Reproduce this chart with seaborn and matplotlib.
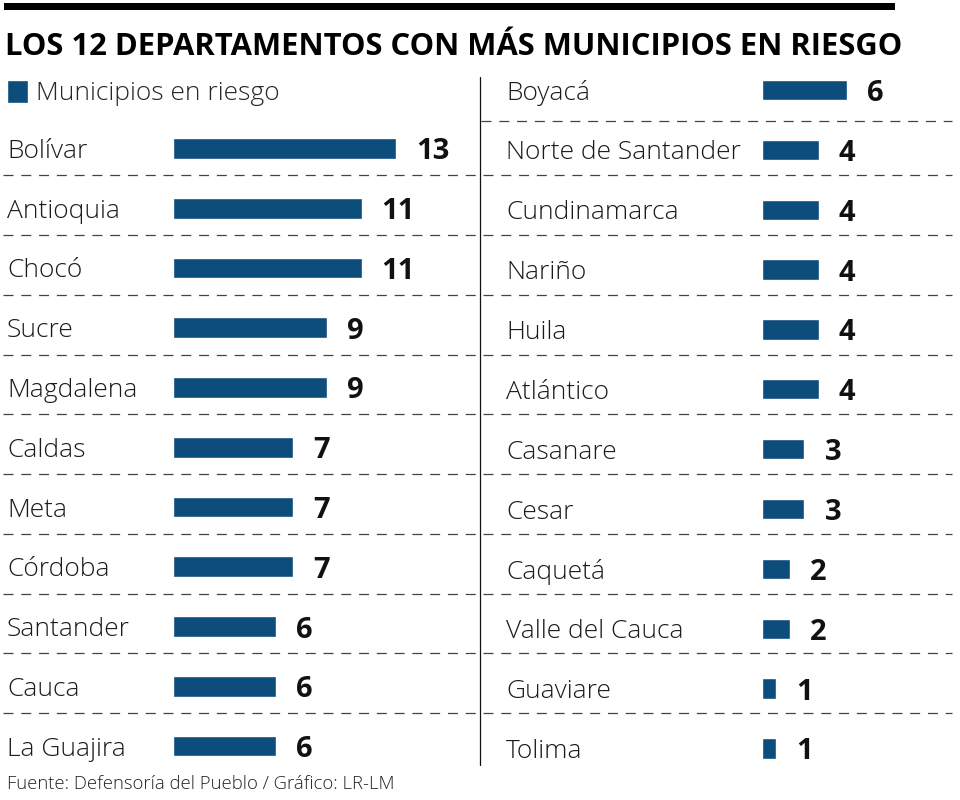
import matplotlib
matplotlib.use("Agg")
import matplotlib.pyplot as plt
import matplotlib.transforms as mtransforms
from matplotlib.lines import Line2D
from matplotlib.patches import Rectangle
import pandas as pd
import seaborn as sns

# ── Data ───────────────────────────────────────────────────────
DEPTOS_IZQ = ["Bolívar", "Antioquia", "Chocó", "Sucre", "Magdalena", "Caldas",
              "Meta", "Córdoba", "Santander", "Cauca", "La Guajira"]
VALORES_IZQ = [13, 11, 11, 9, 9, 7, 7, 7, 6, 6, 6]
DEPTOS_DER = ["Boyacá", "Norte de Santander", "Cundinamarca", "Nariño", "Huila",
              "Atlántico", "Casanare", "Cesar", "Caquetá", "Valle del Cauca",
              "Guaviare", "Tolima"]
VALORES_DER = [6, 4, 4, 4, 4, 4, 3, 3, 2, 2, 1, 1]
SERIE = "Municipios en riesgo"
TITULO = "LOS 12 DEPARTAMENTOS CON MÁS MUNICIPIOS EN RIESGO"
FUENTE = "Fuente: Defensoría del Pueblo / Gráfico: LR-LM"

# ── Style ──────────────────────────────────────────────────────
AZUL = "#0c4d7c"
W, H = 960, 800
sns.set_theme(style="white")
plt.rcParams["font.family"] = ["Open Sans", "DejaVu Sans"]
plt.rcParams["lines.scale_dashes"] = False

fig = plt.figure(figsize=(9.6, 8), dpi=100)
fig.patch.set_facecolor("white")


def px_axes(x0, x1, y0, y1):
    # axes placed with pixel coordinates (origin top-left)
    return fig.add_axes([x0 / W, 1 - y1 / H, (x1 - x0) / W, (y1 - y0) / H])


def draw_column(ax, names, values, label_x, px_per_unit, bar_w, legend_label=None):
    df = pd.DataFrame({"depto": names, "n": values})
    sns.barplot(data=df, x="n", y="depto", color=AZUL, saturation=1,
                width=bar_w, ax=ax, label=legend_label)
    x0, x1 = ax.get_position().x0 * W, ax.get_position().x1 * W
    ax.set_xlim(0, (x1 - x0) / px_per_unit)
    ax.set_ylim(len(names) - 0.5, -0.5)
    ax.axis("off")

    trans_lbl = mtransforms.blended_transform_factory(fig.transFigure, ax.transData)
    off = mtransforms.ScaledTranslation(20 / 100, 0, fig.dpi_scale_trans)
    for i, (name, v) in enumerate(zip(names, values)):
        ax.text(label_x / W, i, name, transform=trans_lbl, ha="left",
                va="center_baseline", fontsize=19, fontweight="light",
                color="#1a1a1a")
        ax.text(v, i, str(v), transform=ax.transData + off, ha="left",
                va="center_baseline", fontsize=21, fontweight="bold",
                color="#111111")


# Left column
ax1 = px_axes(173, 470, 118.6, 775.9)
draw_column(ax1, DEPTOS_IZQ, VALORES_IZQ, 7, 17.15, 0.35, legend_label=SERIE)

# Right column
ax2 = px_axes(762, 955, 60.1, 778.4)
draw_column(ax2, DEPTOS_DER, VALORES_DER, 506, 14.15, 0.34)

# ── Dashed separators ──────────────────────────────────────────
dash = dict(color="#444444", lw=0.9, linestyle=(0, (7.2, 5.6)), clip_on=False)
t1 = mtransforms.blended_transform_factory(fig.transFigure, ax1.transData)
for k in range(len(DEPTOS_IZQ) - 1):
    ax1.add_line(Line2D([3 / W, 952 / W], [k + 0.45, k + 0.45], transform=t1, **dash))
t2 = mtransforms.blended_transform_factory(fig.transFigure, ax2.transData)
ax2.add_line(Line2D([481 / W, 952 / W], [0.52, 0.52], transform=t2, **dash))

# vertical divider
fig.add_artist(Line2D([480 / W, 480 / W], [1 - 77 / H, 1 - 765 / H],
                      color="#111111", lw=0.9))

# top black rule
fig.add_artist(Rectangle((4 / W, 1 - 10 / H), 891 / W, 7 / H,
                         facecolor="black", edgecolor="none"))

# ── Title, legend, source ──────────────────────────────────────
title = fig.text(5 / W, 1 - 55 / H, TITULO, fontsize=22, fontweight="bold",
                 va="baseline", ha="left", color="black")
fig.canvas.draw()
tw = title.get_window_extent().width
title.set_fontsize(22 * 898 / tw)

ax1.legend(loc="center left", bbox_to_anchor=(7 / W, 1 - 93 / H),
           bbox_transform=fig.transFigure, frameon=False,
           prop={"weight": "light", "size": 19},
           handlelength=0.8, handleheight=1.0, handletextpad=0.3,
           borderpad=0, borderaxespad=0)

fig.text(7 / W, 1 - 789 / H, FUENTE, fontsize=13.3, fontweight="light",
         va="baseline", ha="left", color="#222222")

fig.savefig("out.png", dpi=100, facecolor="white")
plt.close(fig)
